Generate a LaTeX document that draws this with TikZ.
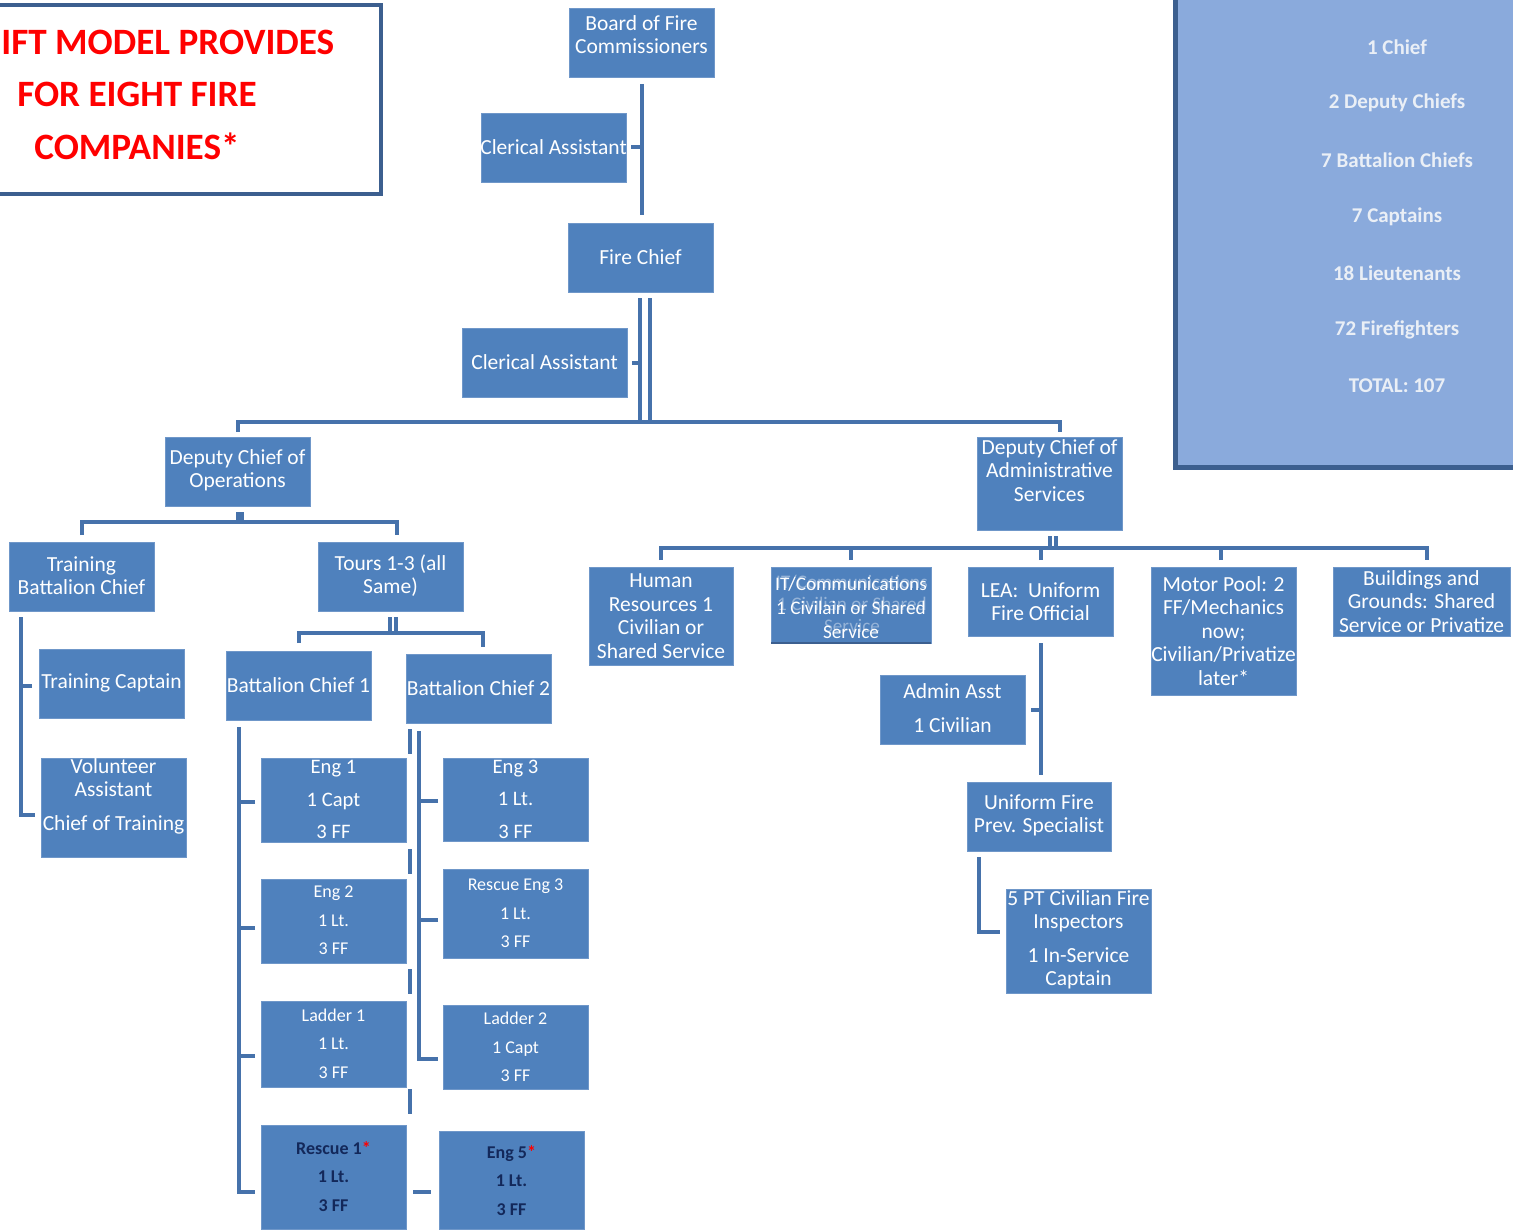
\documentclass[tikz,border=0pt]{standalone}
\usepackage{fontspec}
\setmainfont{Carlito}
\usetikzlibrary{calc}
\pgfdeclarelayer{bg}
\pgfsetlayers{bg,main}
\definecolor{boxfill}{HTML}{4F81BD}
\definecolor{boxedge}{HTML}{6F97C9}
\definecolor{conncol}{HTML}{4672AB}
\definecolor{darkedge}{HTML}{3C5F8F}
\definecolor{panelfill}{HTML}{8AAADC}
\definecolor{paneltext}{HTML}{EAEFF6}
\definecolor{navy}{HTML}{13285A}
\definecolor{titlered}{HTML}{FF0000}
\tikzset{
 box/.style={rectangle, fill=boxfill, draw=boxedge, line width=0.4pt, inner sep=0pt, outer sep=0pt},
 txt/.style={text=white, align=center, inner sep=0pt, font=\fontsize{10.75}{11.75}\selectfont},
 tfwide/.style={font=\fontsize{10.3}{16.25}\selectfont},
 tfsmall/.style={font=\fontsize{9}{14.25}\selectfont},
 tfbold/.style={font=\fontsize{9}{14.25}\selectfont\bfseries, text=navy},
 tfit/.style={font=\fontsize{9.6}{12}\selectfont},
 conn/.style={draw=conncol, line width=2pt},
 dconn/.style={draw=conncol, line width=1.6pt},
 panelline/.style={text=paneltext, inner sep=0pt, font=\fontsize{10.5}{12}\selectfont\bfseries},
 titleline/.style={text=titlered, inner sep=0pt, font=\fontsize{18.6}{20}\selectfont\bfseries},
}
% #1 text style, #2 name, #3 x1, #4 y1, #5 x2, #6 y2, #7 text centre y, #8 text
\newcommand\obox[8][]{%
  \node[box, minimum width={(#5-#3)*0.5pt}, minimum height={(#6-#4)*0.5pt}] (#2) at ({(#3+#5)/2},{(#4+#6)/2}) {};
  \node[txt,#1] (#2-t) at ({(#3+#5)/2},#7) {#8};}
\begin{document}
\begin{tikzpicture}[x=0.5pt,y=-0.5pt]
\useasboundingbox (0,0) rectangle (1513,1230);
% title box
\draw[draw=darkedge, line width=2pt, fill=white] (-20,5) rectangle (381,194);
\node[titleline, anchor=west] (ttl1) at (1,42) {IFT MODEL PROVIDES};
\node[titleline] (ttl2) at (137,94) {FOR EIGHT FIRE};
\node[titleline] (ttl3) at (137,146) {COMPANIES*};
% staffing panel
\draw[draw=darkedge, line width=2.5pt, fill=panelfill] (1175,-20) rectangle (1540,467);
\node[panelline] (p1) at (1397,47) {1 Chief};
\node[panelline] (p2) at (1397,103) {2 Deputy Chiefs};
\node[panelline] (p3) at (1397,160) {7 Battalion Chiefs};
\node[panelline] (p4) at (1397,217) {7 Captains};
\node[panelline] (p5) at (1397,273) {18 Lieutenants};
\node[panelline] (p6) at (1397,330) {72 Firefighters};
\node[panelline] (p7) at (1397,386) {TOTAL: 107};
% boxes
\obox{board}{569}{8}{714}{77}{34.5}{Board of Fire\\Commissioners}
\obox{cler1}{481}{113}{626}{182}{147}{Clerical Assistant}
\obox{chief}{568}{223}{713}{292}{257}{Fire Chief}
\obox{cler2}{462}{328}{627}{397}{362}{Clerical Assistant}
\obox{depops}{165}{437}{310}{506}{470.5}{Deputy Chief of\\Operations}
\obox{depadmin}{977}{437}{1122}{530}{470.5}{Deputy Chief of\\Administrative\\Services}
\obox{trainbc}{9}{542}{154}{611}{575.5}{Training\\Battalion Chief}
\obox{tours}{318}{542}{463}{611}{575.5}{Tours 1-3 (all\\Same)}
\obox{traincap}{39}{649}{184}{718}{683}{Training Captain}
\obox{vol}{41}{758}{186}{857}{796}{Volunteer\\Assistant\\[5pt]Chief of Training}
\obox{bc1}{226}{651}{371}{720}{685}{Battalion Chief 1}
\obox{bc2}{406}{654}{551}{723}{688}{Battalion Chief 2}
\obox[tfwide]{eng1}{261}{758}{406}{842}{799.5}{Eng 1\\1 Capt\\3 FF}
\obox[tfsmall]{eng2}{261}{879}{406}{963}{920.5}{Eng 2\\1 Lt.\\3 FF}
\obox[tfsmall]{ladder1}{261}{1001}{406}{1087}{1043.5}{Ladder 1\\1 Lt.\\3 FF}
\obox[tfbold]{rescue1}{261}{1125}{406}{1229}{1176.5}{Rescue 1\textcolor{red}{*}\\1 Lt.\\3 FF}
\obox[tfwide]{eng3}{443}{758}{588}{841}{799}{Eng 3\\1 Lt.\\3 FF}
\obox[tfsmall]{reng3}{443}{869}{588}{958}{913.5}{Rescue Eng 3\\1 Lt.\\3 FF}
\obox[tfsmall]{ladder2}{443}{1005}{588}{1089}{1047}{Ladder 2\\1 Capt\\3 FF}
\obox[tfbold]{eng5}{439}{1131}{584}{1229}{1180.5}{Eng 5\textcolor{red}{*}\\1 Lt.\\3 FF}
\obox{hr}{589}{567}{733}{665}{616}{Human\\Resources 1\\Civilian or\\Shared Service}
\obox[tfit]{it}{771}{567}{931}{643}{608}{IT/Communications\\1 Civilain or Shared\\Service}
\node[txt, tfit, font=\fontsize{9.6}{11}\selectfont, opacity=0.4] (it-g) at (852,604) {IT/Communications\\1 Civilian or Shared\\Service};
\draw[draw=darkedge, line width=1pt] (it.south west) -- (it.south east);
\obox{lea}{968}{567}{1113}{636}{601.5}{LEA:\ \ Uniform\\Fire Official}
\obox{motor}{1151}{567}{1296}{695}{631}{Motor Pool: 2\\FF/Mechanics\\now;\\Civilian/Privatize\\later*}
\obox{bg}{1333}{567}{1510}{636}{601.5}{Buildings and\\Grounds: Shared\\Service or Privatize}
\obox{admin}{880}{675}{1025}{744}{708.5}{Admin Asst\\[5.25pt]1 Civilian}
\obox{uprev}{967}{782}{1111}{851}{815.5}{Uniform Fire\\Prev. Specialist}
\obox{inspect}{1006}{889}{1151}{993}{940}{5 PT Civilian Fire\\Inspectors\\[5pt]1 In-Service\\Captain}
% connectors
\begin{pgfonlayer}{bg}
\draw[conn] ([yshift=-3.5pt]board.south) -- ([yshift=4pt]board.south |- chief.north);
\draw[conn] ([xshift=2.5pt]cler1.east) -- (board.south |- cler1.east);
\coordinate (bus1) at (645,422);
\draw[conn] ([xshift=-0.25pt,yshift=-3pt]chief.south) -- ([xshift=-0.25pt]chief.south |- bus1);
\draw[conn] ([xshift=4.75pt,yshift=-3pt]chief.south) -- ([xshift=4.75pt]chief.south |- bus1);
\draw[conn] ([xshift=2.5pt]cler2.east) -- ([xshift=-0.25pt]chief.south |- cler2.east);
\draw[conn] ([yshift=2.5pt]depops.north) |- (bus1) -| ([xshift=5.25pt,yshift=2.5pt]depadmin.north);
% operations
\coordinate (bus2) at (240,522);
\draw[dconn] ([xshift=0.25pt,yshift=-3pt]depops.south) -- ([xshift=0.25pt]depops.south |- bus2);
\draw[dconn] ([xshift=2.25pt,yshift=-3pt]depops.south) -- ([xshift=2.25pt]depops.south |- bus2);
\draw[conn] ([yshift=3.5pt]trainbc.north) |- (bus2) -| ([xshift=3.25pt,yshift=3.5pt]tours.north);
% training
\coordinate (tl) at ([xshift=6pt,yshift=-3pt]trainbc.south west);
\draw[conn] (tl) |- ([xshift=-3pt,yshift=-3.75pt]vol.west);
\draw[conn] ([xshift=-3.5pt,yshift=-1.25pt]traincap.west) -- ([yshift=-1.25pt]tl |- traincap.west);
% tours
\coordinate (bus4) at (393,633);
\draw[dconn] ([xshift=-0.25pt,yshift=-3pt]tours.south) -- ([xshift=-0.25pt]tours.south |- bus4);
\draw[dconn] ([xshift=2.75pt,yshift=-3pt]tours.south) -- ([xshift=2.75pt]tours.south |- bus4);
\draw[conn] ([yshift=4pt]bc1.north) |- (bus4) -| ([xshift=2.25pt,yshift=3.5pt]bc2.north);
% battalion chief 1
\coordinate (b1) at ([xshift=6.5pt,yshift=-3.5pt]bc1.south west);
\draw[conn] (b1) |- ([xshift=-3pt,yshift=-7.5pt]rescue1.west);
\draw[conn] ([xshift=-3pt,yshift=-1pt]eng1.west) -- ([yshift=-1pt]b1 |- eng1.west);
\draw[conn] ([xshift=-3pt,yshift=-3.5pt]eng2.west) -- ([yshift=-3.5pt]b1 |- eng2.west);
\draw[conn] ([xshift=-3pt,yshift=-6pt]ladder1.west) -- ([yshift=-6pt]b1 |- ladder1.west);
% battalion chief 2
\coordinate (b2) at ([xshift=6.5pt,yshift=-4pt]bc2.south west);
\draw[conn] (b2) |- ([xshift=-2.5pt,yshift=-6pt]ladder2.west);
\draw[conn] ([xshift=-2.5pt,yshift=-0.75pt]eng3.west) -- ([yshift=-0.75pt]b2 |- eng3.west);
\draw[conn] ([xshift=-2.5pt,yshift=-3.25pt]reng3.west) -- ([yshift=-3.25pt]b2 |- reng3.west);
\draw[conn, dash pattern=on 12.5pt off 47.5pt] ([xshift=1.75pt,yshift=-3pt]bc2.south west) -- ([xshift=1.75pt]bc2.south west |- rescue1.north);
\draw[conn] ([xshift=3.5pt,yshift=-7.5pt]rescue1.east) -- ([xshift=-4pt,yshift=-6pt]eng5.west);
% administrative services
\coordinate (bus3) at (1053,548);
\draw[dconn] ([xshift=0.25pt,yshift=-3pt]depadmin.south) -- ([xshift=0.25pt]depadmin.south |- bus3);
\draw[dconn] ([xshift=3.25pt,yshift=-3pt]depadmin.south) -- ([xshift=3.25pt]depadmin.south |- bus3);
\draw[conn] ([yshift=3.5pt]hr.north) |- (bus3) -| ([xshift=2.75pt,yshift=3.5pt]bg.north);
\draw[conn] ([yshift=3.5pt]it.north) -- (it.north |- bus3);
\draw[conn] ([yshift=3.5pt]lea.north) -- (lea.north |- bus3);
\draw[conn] ([xshift=-1.25pt,yshift=3.5pt]motor.north) -- ([xshift=-1.25pt]motor.north |- bus3);
\draw[conn] ([yshift=-3.5pt]lea.south) -- ([yshift=3.5pt]lea.south |- uprev.north);
\draw[conn] ([xshift=3pt]admin.east) -- (lea.south |- admin.east);
\draw[conn] ([xshift=6pt,yshift=-3pt]uprev.south west) |- ([xshift=-3pt,yshift=4.5pt]inspect.west);
\end{pgfonlayer}
\end{tikzpicture}
\end{document}
